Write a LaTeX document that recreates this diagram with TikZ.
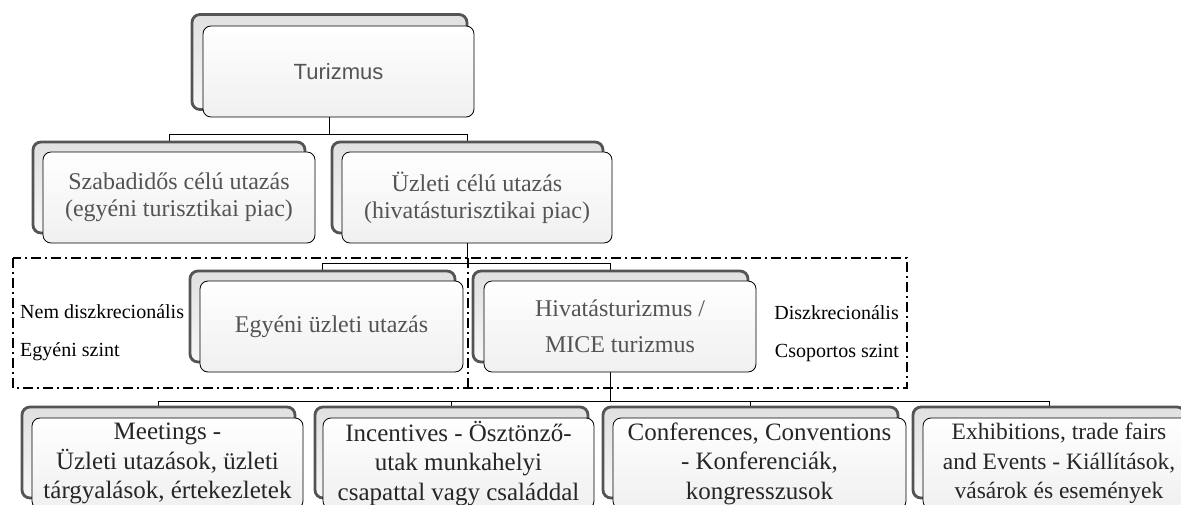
\documentclass[tikz,border=0pt]{standalone}
\usepackage{fontspec}
\setmainfont{Liberation Serif}
\newfontfamily\topfont{Liberation Sans}
\usepackage{tikz}
\usetikzlibrary{backgrounds}
\definecolor{boxgray}{rgb}{0.33,0.33,0.33}
\definecolor{txtgray}{rgb}{0.33,0.33,0.33}

\begin{document}
\begin{tikzpicture}[x=1pt,y=-1pt,
  back/.style={draw=boxgray,line width=2.8pt,top color=black!12,bottom color=black!3,rounded corners=8pt,
    minimum height=91pt,minimum width=272pt,inner sep=0pt},
  front/.style={draw=black,line width=0.8pt,top color=white,bottom color=black!6,
    rounded corners=8pt,minimum height=91pt,minimum width=272pt,inner sep=0pt,
    align=center,text=txtgray,font=\fontsize{24}{27}\selectfont},
  leaf/.style={front,text=black!85,font=\fontsize{25}{29.5}\selectfont},
  side/.style={inner sep=0pt,font=\fontsize{20}{24}\selectfont},
  link/.style={line width=0.8pt},
  zone/.style={line width=1.4pt,dash pattern=on 10pt off 4pt on 2pt off 4pt}]
\useasboundingbox (0,0) rectangle (1181,505);
\clip (0,0) rectangle (1181,505);
\coordinate (bus1) at (0,134);
\coordinate (bus2) at (0,263);
\coordinate (bus3) at (0,401);
\node[back,minimum width=275pt,minimum height=95pt] (tur-b) at (329.5,62) {};
\node[front,minimum width=271pt,font=\topfont\fontsize{22}{26}\selectfont] (tur) at (338.5,71.5) {Turizmus};
\node[back] (sza-b) at (169,187.5) {};
\node[front] (sza) at (179,197.5) {Szabadidős célú utazás\\(egyéni turisztikai piac)};
\node[back,minimum width=271pt] (uzl-b) at (467.5,187.5) {};
\node[front,minimum width=270pt] (uzl) at (477,197.5) {Üzleti célú utazás\\(hivatásturisztikai piac)};
\draw[zone] (13,258) rectangle (907,388);
\draw[zone] (468,258) -- (468,388);
\node[back,minimum width=265pt] (egy-b) at (322.5,316.5) {};
\node[front,minimum width=263pt] (egy) at (331.5,326.5) {Egyéni üzleti utazás};
\node[back,minimum width=275pt] (hiv-b) at (610.5,316.5) {};
\node[front,font=\fontsize{24}{36}\selectfont] (hiv) at (620,326.5) {Hivatásturizmus /\\MICE turizmus};
\node[side,anchor=west] (nemd) at (20,312) {Nem diszkrecionális};
\node[side,anchor=west] (egys) at (20,352) {Egyéni szint};
\node[side,anchor=east] (disz) at (899,313) {Diszkrecionális};
\node[side,anchor=east] (csop) at (899,353) {Csoportos szint};
\node[back,minimum width=273pt] (mee-b) at (158.5,452.5) {};
\node[leaf,minimum width=271pt] (mee) at (167.5,463.5) {Meetings -\\Üzleti utazások, üzleti\\tárgyalások, értekezletek};
\node[back,minimum width=273pt] (inc-b) at (451.5,452.5) {};
\node[leaf,minimum width=271pt] (inc) at (458.5,463.5) {Incentives - Ösztönző-\\utak munkahelyi\\csapattal vagy családdal};
\node[back,minimum width=295pt] (con-b) at (750.5,452.5) {};
\node[leaf,minimum width=293pt] (con) at (759.5,463.5) {Conferences, Conventions\\- Konferenciák,\\kongresszusok};
\node[back] (exh-b) at (1049,452.5) {};
\node[leaf,font=\fontsize{23.5}{29.5}\selectfont] (exh) at (1059,463.5) {Exhibitions, trade fairs\\and Events - Kiállítások,\\vásárok és események};
\begin{scope}[on background layer]
\foreach \c in {sza,uzl}
  \draw[link] (tur-b) -- (tur-b |- bus1) -| (\c-b.north);
\foreach \c in {egy,hiv}
  \draw[link] (uzl-b) -- (uzl-b |- bus2) -| (\c-b.north);
\foreach \c in {mee,inc,con,exh}
  \draw[link] (hiv-b) -- (hiv-b |- bus3) -| (\c-b.north);
\end{scope}
\end{tikzpicture}
\end{document}
